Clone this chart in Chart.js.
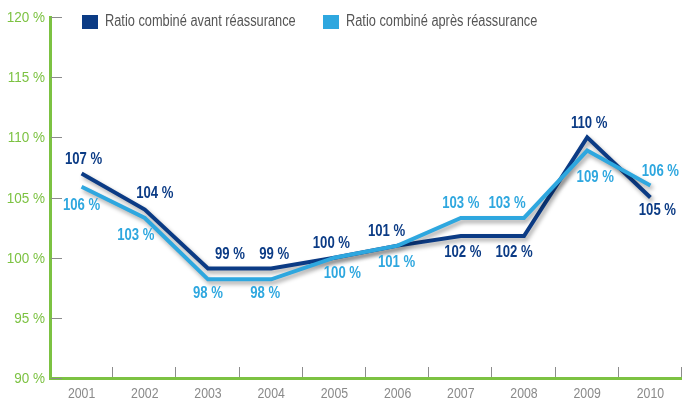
<!DOCTYPE html>
<html>
<head>
<meta charset="utf-8">
<script src="https://cdn.jsdelivr.net/npm/chart.js@4/dist/chart.umd.min.js"></script>
<style>
    html, body { margin: 0; padding: 0; background: #fff; }
    #wrap { width: 682px; height: 401px; }
</style>
</head>
<body>
<div id="wrap"><canvas id="ratio-chart"></canvas></div>
<script>
// Values
const years = ['2001', '2002', '2003', '2004', '2005', '2006', '2007', '2008', '2009', '2010'];
const avantReassurance = [107.0, 104.0, 99.1, 99.1, 100.0, 101.0, 101.8, 101.8, 110.0, 105.0];
const apresReassurance = [105.9, 103.3, 98.2, 98.2, 100.0, 101.0, 103.3, 103.3, 108.9, 106.0];
const avantLabels = ['107 %', '104 %', '99 %', '99 %', '100 %', '101 %', '102 %', '102 %', '110 %', '105 %'];
const apresLabels = ['106 %', '103 %', '98 %', '98 %', '100 %', '101 %', '103 %', '103 %', '109 %', '106 %'];

const FONT = "'Liberation Sans', Arial, sans-serif";
const DARK = '#0b3b85';
const LIGHT = '#2ea7df';
const GREEN = '#7cc242';

// the original uses a condensed face: squeeze Liberation Sans horizontally
function narrowText(ctx, text, x, y, align, font, color, squeeze) {
    ctx.save();
    ctx.font = font;
    ctx.fillStyle = color;
    ctx.textBaseline = 'middle';
    ctx.textAlign = align;
    ctx.translate(x, y);
    ctx.scale(squeeze, 1);
    ctx.fillText(text, 0, 0);
    ctx.restore();
}

// drop shadow under the lines
const shadowPlugin = {
    id: 'shadow',
    beforeDatasetDraw(chart) {
        const ctx = chart.ctx;
        ctx.save();
        ctx.shadowColor = 'rgba(0,0,0,0.35)';
        ctx.shadowBlur = 4;
        ctx.shadowOffsetX = 2;
        ctx.shadowOffsetY = 3;
    },
    afterDatasetDraw(chart) {
        chart.ctx.restore();
    }
};

// short grey tick marks pointing into the plot, plus the axis labels
const axisDecor = {
    id: 'axisDecor',
    afterDraw(chart) {
        const ctx = chart.ctx;
        const area = chart.chartArea;
        const y = chart.scales.y;
        const x = chart.scales.x;
        ctx.save();
        ctx.strokeStyle = '#8c8c8c';
        ctx.lineWidth = 1;
        y.ticks.forEach(t => {
            const py = Math.round(y.getPixelForValue(t.value)) + 0.5;
            ctx.beginPath();
            ctx.moveTo(area.left + 1, py);
            ctx.lineTo(area.left + 12, py);
            ctx.stroke();
            narrowText(ctx, t.value + ' %', area.left - 5, py + 0.5, 'right', '15px ' + FONT, GREEN, 0.9);
        });
        const step = (area.right - area.left) / years.length;
        for (let i = 1; i <= years.length; i++) {
            const px = Math.round(area.left + step * i) - 0.5;
            ctx.beginPath();
            ctx.moveTo(px, area.bottom - 1);
            ctx.lineTo(px, area.bottom - 11);
            ctx.stroke();
        }
        years.forEach((yr, i) => {
            narrowText(ctx, yr, x.getPixelForValue(i), area.bottom + 16, 'center', '15px ' + FONT, '#8a8a8a', 0.82);
        });
        ctx.restore();
    }
};

// value labels above / below each point
const valueLabels = {
    id: 'valueLabels',
    afterDatasetsDraw(chart, args, opts) {
        const ctx = chart.ctx;
        chart.data.datasets.forEach((ds, di) => {
            const meta = chart.getDatasetMeta(di);
            const other = chart.data.datasets[1 - di].data;
            meta.data.forEach((pt, i) => {
                const v = ds.data[i];
                const above = di === 0 ? v >= other[i] : v > other[i];
                const nudge = opts.nudge[di][i];
                const py = pt.y + (above ? -14 : 17) + nudge[1];
                narrowText(ctx, ds.valueLabels[i], pt.x + nudge[0], py, 'center', 'bold 16px ' + FONT, ds.borderColor, 0.82);
            });
        });
    }
};

const topLegend = {
    id: 'topLegend',
    afterDraw(chart) {
        const ctx = chart.ctx;
        const starts = [82, 323];
        chart.data.datasets.forEach((ds, i) => {
            ctx.fillStyle = ds.borderColor;
            ctx.fillRect(starts[i], 15, 16, 14);
            narrowText(ctx, ds.label, starts[i] + 23, 22, 'left', '16px ' + FONT, '#555555', 0.8);
        });
    }
};

document.addEventListener('DOMContentLoaded', function () {
    const ctx = document.getElementById('ratio-chart');

    new Chart(ctx, {
        type: 'line',
        data: {
            labels: years,
            datasets: [{
                label: 'Ratio combiné avant réassurance',
                data: avantReassurance,
                valueLabels: avantLabels,
                borderColor: DARK,
                backgroundColor: DARK,
                borderWidth: 4,
                borderJoinStyle: 'miter',
                pointRadius: 0,
                tension: 0,
                order: 2
            }, {
                label: 'Ratio combiné après réassurance',
                data: apresReassurance,
                valueLabels: apresLabels,
                borderColor: LIGHT,
                backgroundColor: LIGHT,
                borderWidth: 4,
                borderJoinStyle: 'miter',
                pointRadius: 0,
                tension: 0,
                order: 1
            }]
        },
        options: {
            responsive: true,
            maintainAspectRatio: false,
            animation: false,
            layout: {
                padding: { top: 17, right: 0, left: 0, bottom: 0 }
            },
            scales: {
                x: {
                    offset: true,
                    grid: { display: false, drawTicks: false },
                    border: { color: GREEN, width: 3 },
                    ticks: { display: false },
                    afterFit(scale) { scale.height = 23; }
                },
                y: {
                    min: 90,
                    max: 120,
                    grid: { display: false, drawTicks: false },
                    border: { color: GREEN, width: 3 },
                    ticks: { display: false, stepSize: 5 },
                    afterFit(scale) { scale.width = 50; }
                }
            },
            plugins: {
                legend: { display: false },
                tooltip: { enabled: false },
                valueLabels: {
                    nudge: [
                        [[2, 0], [10, -2], [22, 0], [3, 0], [-3, 0], [-11, 0], [2, 0], [-10, 0], [2, 0], [7, -4]],
                        [[0, 2], [-9, 1], [0, -3], [-6, -3], [8, -1], [-1, 0], [0, 0], [-17, 0], [8, 10], [10, 0]]
                    ]
                }
            }
        },
        plugins: [shadowPlugin, axisDecor, valueLabels, topLegend]
    });
});
</script>
</body>
</html>
